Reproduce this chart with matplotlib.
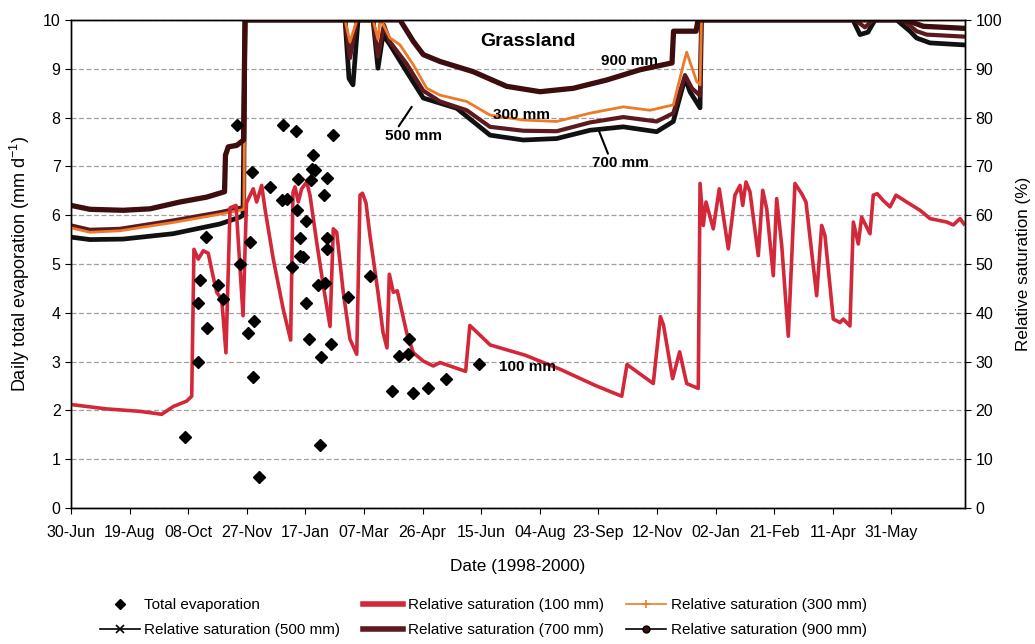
import matplotlib
matplotlib.use("Agg")
import matplotlib.pyplot as plt
from matplotlib.lines import Line2D

plt.rcParams['font.family'] = ['Liberation Sans', 'DejaVu Sans']
plt.rcParams['mathtext.default'] = 'regular'

# x values are days after 30-Jun-1998
tick_days = [0, 50, 100, 150, 200, 250, 300, 350, 400, 450, 500, 550, 600, 650, 700]
tick_labels = ["30-Jun", "19-Aug", "08-Oct", "27-Nov", "17-Jan", "07-Mar", "26-Apr",
               "15-Jun", "04-Aug", "23-Sep", "12-Nov", "02-Jan", "21-Feb", "11-Apr", "31-May"]

# daily total evaporation (mm/d)
evap_day = [97.3, 108.1, 108.1, 110.1, 115.8, 115.2, 125.7, 129.4, 141.4, 144.2,
            151.3, 152.7, 154.2, 155.0, 156.1, 160.4, 170.2, 181.1, 180.0, 184.3,
            188.3, 192.0, 194.1, 192.8, 195.4, 195.4, 198.2, 200.1, 200.5, 203.3,
            204.8, 205.6, 208.2, 206.7, 211.0, 212.9, 212.4, 216.7, 215.9, 218.2,
            218.0, 218.0, 221.8, 223.8, 236.6, 255.1, 273.6, 280.1, 287.8, 288.4,
            292.1, 305.0, 320.0, 348.1]
evap_mm = [1.45, 3.00, 4.20, 4.68, 3.68, 5.56, 4.57, 4.28, 7.85, 5.00,
           3.59, 5.45, 6.89, 2.68, 3.83, 0.64, 6.57, 7.85, 6.32, 6.34,
           4.93, 7.72, 6.75, 6.10, 5.53, 5.17, 5.14, 5.89, 4.21, 3.46,
           6.72, 6.95, 6.93, 7.24, 4.56, 3.10, 1.30, 4.62, 6.41, 6.77,
           5.53, 5.30, 3.37, 7.65, 4.32, 4.75, 2.40, 3.12, 3.15, 3.47,
           2.35, 2.45, 2.65, 2.95]

# relative saturation (%) at 100 mm
sat100_day = [0, 30.5, 58.9, 77.4, 87.3, 98.7, 103.0, 104.9, 108.6, 112.9,
              117.1, 120.3, 124.3, 128.6, 132.2, 135.7, 140.8, 146.8, 149.7, 155.5,
              158.4, 162.7, 165.5, 172.6, 181.1, 187.4, 189.4, 191.1, 193.9, 196.8,
              201.1, 203.9, 209.6, 215.3, 221.0, 223.8, 226.7, 232.3, 238.0, 243.8,
              246.6, 248.7, 251.7, 255.1, 261.9, 266.2, 269.6, 271.6, 275.0, 278.4,
              286.4, 292.1, 300.6, 309.1, 314.8, 336.7, 340.3, 357.7, 387.6, 417.6,
              447.4, 469.9, 474.4, 496.8, 502.9, 505.5, 513.3, 519.3, 525.3, 535.2,
              536.7, 539.5, 541.8, 548.0, 553.1, 560.8, 566.5, 570.8, 573.1, 575.9,
              579.3, 586.4, 590.2, 593.6, 599.2, 602.1, 606.4, 612.0, 617.7, 623.4,
              627.1, 636.2, 640.5, 643.3, 650.4, 656.1, 658.9, 664.6, 667.5, 671.7,
              674.6, 681.7, 684.5, 687.9, 693.0, 698.8, 703.9, 713.0, 724.4, 732.9,
              747.1, 752.8, 758.5, 761.9]
sat100 = [21.2, 20.3, 19.8, 19.2, 20.8, 21.9, 22.9, 53.0, 51.0, 52.7,
          52.2, 48.5, 44.2, 42.8, 31.8, 61.5, 62.0, 39.4, 62.5, 65.4,
          62.7, 66.1, 61.3, 51.0, 40.7, 34.4, 64.7, 65.8, 62.7, 65.4,
          66.8, 64.1, 54.5, 45.5, 37.2, 57.2, 56.5, 44.2, 34.6, 31.5,
          64.1, 64.5, 62.5, 55.8, 44.2, 36.0, 32.8, 47.9, 44.2, 44.5,
          35.9, 31.8, 30.1, 29.1, 29.8, 28.0, 37.4, 33.4, 31.3, 28.4,
          25.1, 22.9, 29.4, 25.5, 39.2, 37.5, 26.5, 32.0, 25.5, 24.5,
          66.5, 57.9, 62.7, 57.2, 65.4, 53.1, 64.1, 66.1, 62.0, 66.8,
          64.8, 51.7, 65.1, 61.3, 47.6, 63.4, 53.8, 35.2, 66.5, 64.4,
          62.7, 43.5, 57.9, 55.8, 38.7, 38.0, 38.7, 37.3, 58.6, 54.1,
          59.6, 56.2, 64.1, 64.4, 63.0, 61.7, 64.1, 62.7, 61.0, 59.3,
          58.6, 58.0, 59.3, 58.2]

# relative saturation (%) at 300 mm
sat300_day = [0, 16.2, 41.8, 87.0, 127.1, 144.2, 147.6, 148.5, 233.8, 238.0,
              244.0, 257.7, 261.9, 263.6, 266.5, 272.2, 280.7, 292.1, 303.5, 314.8,
              337.6, 357.5, 385.9, 414.4, 442.8, 471.2, 494.0, 513.9, 522.4, 525.3,
              533.8, 536.7, 537.9, 762.8]
sat300 = [57.4, 56.5, 56.8, 58.5, 60.2, 61.0, 61.2, 100, 100, 95.5,
          100, 100, 96.0, 100, 99.0, 96.3, 94.9, 90.8, 86.0, 84.6,
          83.3, 80.5, 79.5, 79.2, 80.9, 82.2, 81.5, 82.6, 90.8, 93.4,
          87.4, 86.7, 100, 100]

# relative saturation (%) at 500 mm
sat500_day = [0, 16.2, 44.4, 87.0, 127.1, 144.2, 146.7, 148.5, 233.8, 237.2,
              240.6, 244.9, 257.7, 261.9, 266.2, 272.2, 286.4, 300.6, 329.1, 357.5,
              385.9, 414.4, 442.8, 471.2, 499.7, 513.9, 523.9, 528.1, 536.7, 537.9,
              667.2, 673.2, 680.0, 686.0, 704.5, 715.8, 721.5, 732.9, 761.1]
sat500 = [55.5, 55.0, 55.1, 56.2, 58.2, 59.6, 60.0, 100, 100, 88.0,
          86.7, 100, 100, 90.1, 97.0, 94.9, 89.4, 84.0, 81.9, 76.4,
          75.4, 75.7, 77.4, 78.1, 77.1, 79.2, 88.1, 85.3, 82.0, 100,
          100, 97.0, 97.5, 100, 100, 97.7, 96.3, 95.3, 94.9]

# relative saturation (%) at 700 mm
sat700_day = [0, 16.2, 41.8, 87.0, 127.1, 144.2, 147.6, 148.5, 233.8, 238.0,
              244.0, 257.7, 261.9, 267.0, 272.2, 286.4, 300.6, 314.8, 337.6, 357.5,
              385.9, 414.4, 442.8, 471.2, 499.7, 513.9, 523.9, 529.8, 536.7, 537.9,
              668.9, 677.4, 684.3, 709.9, 721.5, 730.1, 761.1]
sat700 = [57.9, 57.0, 57.2, 58.9, 60.6, 61.5, 61.6, 100, 100, 92.2,
          100, 100, 92.5, 99.0, 95.5, 91.0, 85.5, 83.3, 81.5, 78.1,
          77.3, 77.2, 79.0, 80.1, 79.2, 80.9, 88.7, 86.0, 84.5, 100,
          100, 98.5, 100, 100, 97.7, 97.0, 96.6]

# relative saturation (%) at 900 mm
sat900_day = [0, 16.2, 44.6, 67.4, 93.0, 115.8, 131.0, 131.8, 134.2, 141.4,
              147.2, 148.5, 280.7, 292.1, 300.6, 314.8, 343.2, 371.7, 400.2, 428.6,
              457.1, 485.5, 512.8, 514.1, 533.3, 535.0, 703.9, 715.8, 727.2, 761.1]
sat900 = [62.0, 61.2, 61.0, 61.3, 62.7, 63.7, 64.8, 72.3, 74.0, 74.3,
          75.4, 100, 100, 95.6, 92.9, 91.5, 89.4, 86.4, 85.3, 86.0,
          87.7, 89.8, 91.2, 97.7, 97.7, 100, 100, 99.7, 98.7, 98.3]

c100 = '#d2283a'
c300 = '#ec7a28'
c500 = '#111111'
c700 = '#5c1a1e'
c900 = '#3e0d0d'

fig = plt.figure(figsize=(10.35, 6.44), dpi=100)
ax = fig.add_axes([0.0686, 0.2112, 0.8638, 0.7578])
ax2 = ax.twinx()
ax.set_zorder(ax2.get_zorder() + 1)
ax.patch.set_visible(False)

ax2.grid(axis='y', color='#a0a0a0', lw=0.9, ls=(0, (4, 2)))
ax2.set_axisbelow(True)

ax2.plot(sat500_day, sat500, color=c500, lw=3.4, solid_joinstyle='round', zorder=2)
ax2.plot(sat700_day, sat700, color=c700, lw=3.0, solid_joinstyle='round', zorder=3)
ax2.plot(sat300_day, sat300, color=c300, lw=2.0, solid_joinstyle='round', zorder=4)
ax2.plot(sat900_day, sat900, color=c900, lw=3.8, solid_joinstyle='round', zorder=5)
ax2.plot(sat100_day, sat100, color=c100, lw=2.6, solid_joinstyle='round', zorder=6)

ax.plot(evap_day, evap_mm, ls='none', marker='D', ms=5.8, color='black', zorder=7)

ax.set_xlim(0, 762.8)
ax.set_ylim(0, 10)
ax2.set_ylim(0, 100)
ax.set_xticks(tick_days)
ax.set_xticklabels(tick_labels)
ax.set_yticks(range(0, 11))
ax2.set_yticks(range(0, 101, 10))

for a in (ax, ax2):
    for s in a.spines.values():
        s.set_color('black')
        s.set_linewidth(1.0)
ax.tick_params(axis='both', labelsize=11.5, length=4, direction='out', color='black')
ax.tick_params(axis='x', pad=8)
ax2.tick_params(axis='y', labelsize=11.5, length=4, direction='out', color='black')

ax.set_ylabel(r"Daily total evaporation (mm d$^{-1}$)", fontsize=13, labelpad=8)
ax2.set_ylabel("Relative saturation (%)", fontsize=12.3, labelpad=10)
ax.set_xlabel("Date (1998-2000)", fontsize=12.4, labelpad=14)

# curve labels
ax.text(389.9, 9.56, "Grassland", ha='center', va='center', fontsize=14, fontweight='bold')
ax.text(476.9, 9.15, "900 mm", ha='center', va='center', fontsize=11, fontweight='bold')
ax.text(384.4, 8.05, "300 mm", ha='center', va='center', fontsize=11, fontweight='bold')
ax.annotate("500 mm", xy=(290.7, 8.22), xytext=(292.6, 7.62), ha='center', va='center',
            fontsize=11, fontweight='bold',
            arrowprops=dict(arrowstyle='-', lw=1.5, color='black', shrinkA=0, shrinkB=0,
                            relpos=(0.2, 1.0)))
ax.annotate("700 mm", xy=(450.7, 7.71), xytext=(468.8, 7.06), ha='center', va='center',
            fontsize=11, fontweight='bold',
            arrowprops=dict(arrowstyle='-', lw=1.5, color='black', shrinkA=0, shrinkB=0,
                            relpos=(0.3, 1.0)))
ax.text(389.9, 2.88, "100 mm", ha='center', va='center', fontsize=11, fontweight='bold')

handles = [
    Line2D([], [], ls='none', marker='D', ms=5, color='black'),
    Line2D([], [], color='black', lw=1.2, marker='x', ms=6, mew=1.2),
    Line2D([], [], color=c100, lw=4),
    Line2D([], [], color=c700, lw=4),
    Line2D([], [], color=c300, lw=1.2, marker='+', ms=6, mew=1.2),
    Line2D([], [], color='black', lw=1.2, marker='o', ms=5, mfc=c900, mec='black'),
]
labels = ["Total evaporation", "Relative saturation (500 mm)",
          "Relative saturation (100 mm)", "Relative saturation (700 mm)",
          "Relative saturation (300 mm)", "Relative saturation (900 mm)"]
fig.legend(handles, labels, ncol=3, loc='upper left', bbox_to_anchor=(100 / 1035, 1 - 598 / 644),
           frameon=False, fontsize=11, handlelength=2.6, handletextpad=0.3,
           columnspacing=1.5, labelspacing=0.72, borderpad=0, borderaxespad=0)

fig.savefig("out.png", dpi=100)
